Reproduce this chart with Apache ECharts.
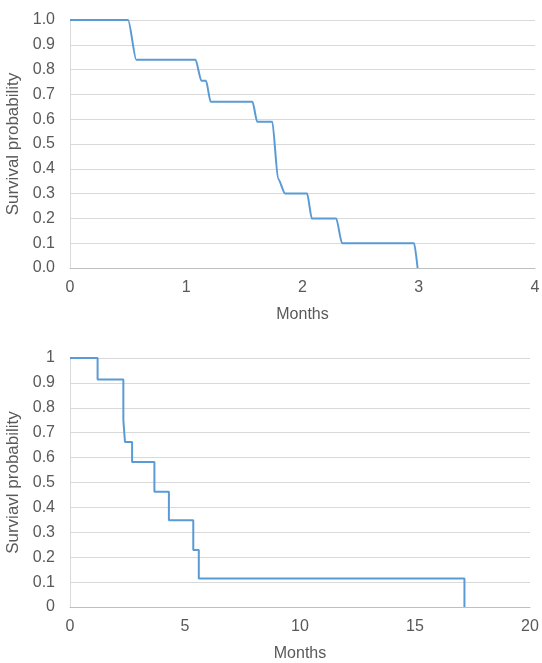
<!DOCTYPE html>
<html><head><meta charset="utf-8">
<script src="https://cdn.jsdelivr.net/npm/echarts@6/dist/echarts.min.js"></script>
<style>html,body{margin:0;padding:0;background:#fff}#c{width:542px;height:663px}</style>
</head><body><div id="c"></div>
<script>
// Top chart: smoothed survival curve (months, probability)
const topMonths = [0, 0.5, 0.57, 1.08, 1.13, 1.17, 1.21, 1.57, 1.61, 1.74, 1.79, 1.85, 2.04, 2.08, 2.29, 2.34, 2.96, 2.99];
const topSurvival = [1.0, 1.0, 0.84, 0.84, 0.755, 0.755, 0.67, 0.67, 0.59, 0.59, 0.36, 0.30, 0.30, 0.20, 0.20, 0.10, 0.10, 0.0];
// Bottom chart: step survival curve (event months, probability after event)
const bottomMonths = [0, 1.2, 2.32, 2.39, 2.7, 3.67, 4.3, 5.36, 5.6, 17.15];
const bottomSurvival = [1.0, 0.914, 0.75, 0.663, 0.582, 0.463, 0.348, 0.229, 0.114, 0.0];
const topXTicks = [0, 1, 2, 3, 4];
const bottomXTicks = [0, 5, 10, 15, 20];
const yTitleTop = 'Survival probability';
const yTitleBottom = 'Surviavl probability';
const xTitle = 'Months';

const font = 'Liberation Sans, Arial, sans-serif';
const labelColor = '#595959';
const gridColor = '#d9d9d9';
const lineColor = '#5b9bd5';

function xAxis(idx, ticks) {
  return {
    type: 'value', gridIndex: idx, min: ticks[0], max: ticks[ticks.length - 1],
    interval: ticks[1] - ticks[0],
    name: xTitle, nameLocation: 'middle', nameGap: 39,
    nameTextStyle: { color: labelColor, fontSize: 16, fontFamily: font },
    axisLine: { show: true, lineStyle: { color: '#bfbfbf' } },
    axisTick: { show: false },
    axisLabel: { color: labelColor, fontSize: 16, fontFamily: font, margin: 12 },
    splitLine: { show: false }
  };
}
function yAxis(idx, title, fmt) {
  return {
    type: 'value', gridIndex: idx, min: 0, max: 1, interval: 0.1,
    name: title, nameLocation: 'middle', nameGap: 44, nameRotate: 90,
    nameTextStyle: { color: labelColor, fontSize: 17, fontFamily: font },
    axisLine: { show: true, lineStyle: { color: '#d9d9d9' } },
    axisTick: { show: false },
    axisLabel: { color: labelColor, fontSize: 16, fontFamily: font, margin: 15, formatter: fmt },
    splitLine: { show: true, lineStyle: { color: gridColor, width: 1 } }
  };
}

const chart = echarts.init(document.getElementById('c'), null, { renderer: 'canvas' });
chart.setOption({
  animation: false,
  grid: [
    { left: 70, right: 7, top: 20, height: 248, outerBoundsMode: 'none', containLabel: false },
    { left: 70, right: 12, top: 358, height: 249, outerBoundsMode: 'none', containLabel: false }
  ],
  xAxis: [xAxis(0, topXTicks), xAxis(1, bottomXTicks)],
  yAxis: [
    yAxis(0, yTitleTop, v => v.toFixed(1)),
    yAxis(1, yTitleBottom, v => String(Math.round(v * 10) / 10))
  ],
  series: [
    {
      type: 'line', xAxisIndex: 0, yAxisIndex: 0, showSymbol: false,
      smooth: 0.25, smoothMonotone: 'x',
      lineStyle: { color: lineColor, width: 2 },
      data: topMonths.map((m, i) => [m, topSurvival[i]])
    },
    {
      type: 'line', xAxisIndex: 1, yAxisIndex: 1, showSymbol: false,
      step: 'end',
      lineStyle: { color: lineColor, width: 2 },
      data: bottomMonths.map((m, i) => [m, bottomSurvival[i]])
    }
  ]
});
</script></body></html>
